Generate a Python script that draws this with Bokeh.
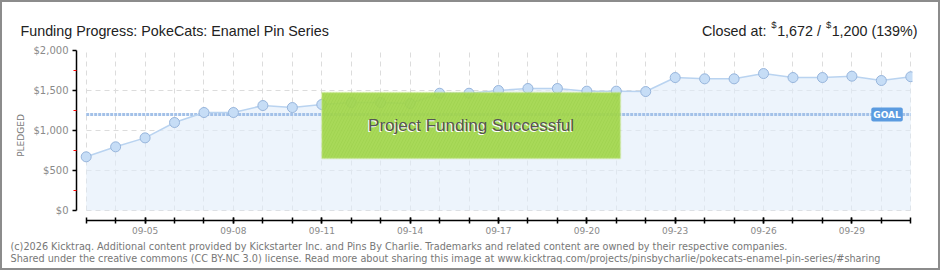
from bokeh.plotting import figure
from bokeh.layouts import column
from bokeh.models import FixedTicker, Label, BoxAnnotation, ColumnDataSource, Range1d
from bokeh.embed import file_html
from bokeh.resources import INLINE

# ---------------- data ----------------
dates = ["09-03", "09-04", "09-05", "09-06", "09-07", "09-08", "09-09", "09-10",
         "09-11", "09-12", "09-13", "09-14", "09-15", "09-16", "09-17", "09-18",
         "09-19", "09-20", "09-21", "09-22", "09-23", "09-24", "09-25", "09-26",
         "09-27", "09-28", "09-29", "09-30", "10-01"]
pledged = [671, 796, 908, 1100, 1225, 1225, 1312, 1287, 1325, 1350, 1350, 1337,
           1466, 1466, 1500, 1525, 1525, 1492, 1492, 1487, 1662, 1646, 1646, 1712,
           1662, 1662, 1679, 1625, 1672]
goal = 1200
y_ticks = [0, 500, 1000, 1500, 2000]
y_tick_labels = ["$0", "$500", "$1,000", "$1,500", "$2,000"]
y_minor_ticks = [250, 750, 1250, 1750]
label_every = 3
label_first = 2

title_text = "Funding Progress: PokeCats: Enamel Pin Series"
closed_parts = ["Closed at:", "$", "1,672 /", "$", "1,200 (139%)"]
footer1 = ("(c)2026 Kicktraq. Additional content provided by Kickstarter Inc. and Pins By Charlie. "
           "Trademarks and related content are owned by their respective companies.")
footer2 = ("Shared under the creative commons (CC BY-NC 3.0) license. Read more about sharing this "
           "image at www.kicktraq.com/projects/pinsbycharlie/pokecats-enamel-pin-series/#sharing")

x = list(range(len(dates)))
src = ColumnDataSource(dict(x=x, y=pledged, zero=[0] * len(x)))

W = 936
HEAD_H, MAIN_H, FOOT_H = 40, 196, 30   # page rows: 2-42, 42-238, 238-268

# Arial / Liberation Sans advance widths (1/1000 em) for header layout
_AW = {"C": 722, "l": 222, "o": 556, "s": 500, "e": 556, "d": 556, " ": 278, "a": 556,
       "t": 278, ":": 278, ",": 278, "/": 278, "(": 333, ")": 333, "%": 889, "$": 556}


def text_w(s, size):
    return sum(_AW.get(c, 556) for c in s) * size / 1000.0


def blank(h):
    f = figure(width=W, height=h, output_backend="svg", toolbar_location=None,
               x_range=Range1d(0, W), y_range=Range1d(h, 0),
               x_axis_type=None, y_axis_type=None, min_border=0,
               min_border_left=0, min_border_right=0, min_border_top=0, min_border_bottom=0)
    f.outline_line_color = None
    f.background_fill_color = "white"
    f.border_fill_color = "white"
    f.xgrid.visible = False
    f.ygrid.visible = False
    f.frame_align = False
    return f


def tlabel(f, top, text, px, py, size, color="#222222", font="Liberation Sans",
           baseline="alphabetic", align="left"):
    f.add_layout(Label(x=px - 2, y=py - top, text=text, text_align=align,
                       text_baseline=baseline, text_color=color, text_font=font,
                       text_font_size=size))


# ---------------- header ----------------
head = blank(HEAD_H)
BIG, SMALL = 14.3, 9.5
tlabel(head, 2, title_text, 20, 30, f"{BIG}px")
# lay the "Closed at" pieces out from the right edge
right = 917.0
pieces = [(closed_parts[4], BIG, 30, 0.5), (closed_parts[3], SMALL, 24, 5.0),
          (closed_parts[2], BIG, 30, 0.5), (closed_parts[1], SMALL, 24, 5.0),
          (closed_parts[0], BIG, 30, 0.0)]
for txt, size, base, gap in pieces:
    left = right - text_w(txt, size)
    tlabel(head, 2, txt, left, base, f"{size}px")
    right = left - gap

# ---------------- main chart ----------------
p = figure(width=W, height=MAIN_H, output_backend="svg", toolbar_location=None,
           x_range=(-0.329, 28.058), y_range=(-125, 2000),
           min_border_left=74, min_border_right=26, min_border_top=8, min_border_bottom=18)
p.frame_align = False
p.outline_line_color = None
p.background_fill_color = "white"
p.border_fill_color = "white"

p.xgrid.ticker = FixedTicker(ticks=x)
p.ygrid.ticker = FixedTicker(ticks=y_ticks)
for g in (p.xgrid, p.ygrid):
    g.grid_line_color = "#dcdcdc"
    g.grid_line_dash = "5 4"
    g.grid_line_width = 1
p.xgrid.cross_bounds = (0, 2000)
p.ygrid.cross_bounds = (x[0], x[-1])

p.varea(x="x", y1="zero", y2="y", source=src, fill_color="#e1edfa", fill_alpha=0.6)
p.line(x=[x[0], x[-1]], y=[goal, goal], line_color="#a3c1e8", line_width=3, line_dash="3 1")
p.line(x="x", y="y", source=src, line_color="#b9d3f0", line_width=1.5)
p.scatter(x="x", y="y", source=src, size=10, fill_color="#c6ddf6", line_color="#97b5dc",
          line_width=1)

xa = p.xaxis[0]
xa.ticker = FixedTicker(ticks=x[label_first::label_every], minor_ticks=x)
xa.major_label_overrides = {i: dates[i] for i in x[label_first::label_every]}
xa.bounds = (x[0], x[-1])
xa.axis_line_color = "black"
xa.axis_line_width = 1.5
xa.major_tick_in = 3
xa.major_tick_out = 3
xa.minor_tick_in = 3
xa.minor_tick_out = 3
xa.major_tick_line_color = "black"
xa.minor_tick_line_color = "black"
xa.major_tick_line_width = 1.5
xa.minor_tick_line_width = 1.5
xa.major_label_text_font = "DejaVu Sans"
xa.major_label_text_font_size = "9px"
xa.major_label_text_color = "#8a8a8a"
xa.major_label_standoff = 3

ya = p.yaxis[0]
ya.ticker = FixedTicker(ticks=y_ticks, minor_ticks=y_minor_ticks)
ya.major_label_overrides = {v: t for v, t in zip(y_ticks, y_tick_labels)}
ya.bounds = (y_ticks[0], y_ticks[-1])
ya.axis_line_color = "black"
ya.axis_line_width = 1.5
ya.major_tick_in = 0
ya.major_tick_out = 4
ya.minor_tick_in = 0
ya.minor_tick_out = 3
ya.major_tick_line_color = "black"
ya.minor_tick_line_color = "red"
ya.major_tick_line_width = 1.5
ya.major_label_text_font = "DejaVu Sans"
ya.major_label_text_font_size = "10px"
ya.major_label_text_color = "#8a8a8a"
ya.major_label_standoff = 4
ya.axis_label = "PLEDGED"
ya.axis_label_text_font = "DejaVu Sans"
ya.axis_label_text_font_size = "9px"
ya.axis_label_text_font_style = "normal"
ya.axis_label_text_color = "#777777"
ya.axis_label_standoff = 5

# success box
box_l, box_r, box_b, box_t = 8, 18.14, 650, 1475
p.add_layout(BoxAnnotation(left=box_l, right=box_r, bottom=box_b, top=box_t,
                           fill_color="#a2d64a", fill_alpha=0.92,
                           hatch_pattern="/", hatch_color="#8cc43a", hatch_alpha=0.25,
                           hatch_scale=6, line_color="#c9e890", line_width=2))
cx, cy = (box_l + box_r) / 2, (box_b + box_t) / 2
p.add_layout(Label(x=cx, y=cy, x_offset=-1, y_offset=-1, text="Project Funding Successful",
                   text_align="center", text_baseline="middle", text_color="white",
                   text_font="Liberation Sans", text_font_size="17px"))
p.add_layout(Label(x=cx, y=cy, text="Project Funding Successful",
                   text_align="center", text_baseline="middle", text_color="#555555",
                   text_font="Liberation Sans", text_font_size="17px"))

p.add_layout(Label(x=x[-1], y=goal, x_offset=-8, text="GOAL", text_align="right",
                   text_baseline="middle", text_color="white", text_font="DejaVu Sans",
                   text_font_size="9px", text_font_style="bold",
                   background_fill_color="#5b9be0", border_radius=2, padding=2))

# ---------------- footer ----------------
foot = blank(FOOT_H)
tlabel(foot, 238, footer1, 10, 246, "9.7px", color="#777777", font="DejaVu Sans")
tlabel(foot, 238, footer2, 10, 258, "9.7px", color="#777777", font="DejaVu Sans")

layout = column(head, p, foot, spacing=0, width=940, height=270,
                styles={"border": "2px solid #8c8c8c", "box-sizing": "border-box"})

open("out.html", "w").write(file_html(layout, INLINE))
